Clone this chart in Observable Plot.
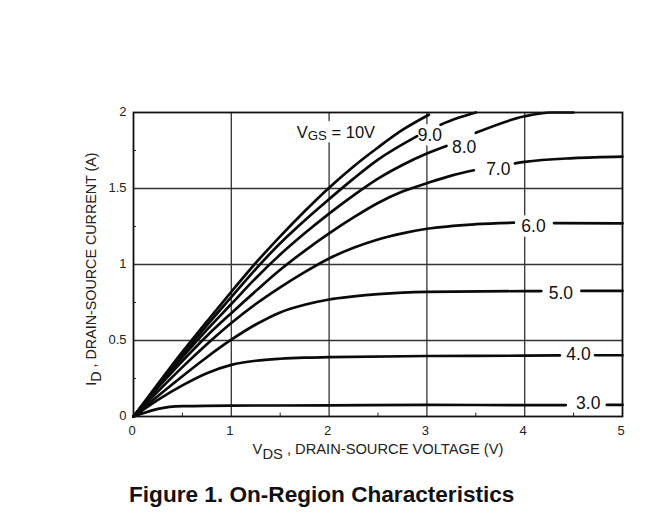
<!DOCTYPE html>
<html><head><meta charset="utf-8">
<script src="https://cdn.jsdelivr.net/npm/d3@7"></script>
<script src="https://cdn.jsdelivr.net/npm/@observablehq/plot@0.6"></script>
<style>
html,body{margin:0;padding:0;background:#fff}
#cap{font:bold 22.6px "Liberation Sans",Arial,sans-serif;color:#111;padding-left:129px;margin-top:4px;white-space:nowrap}
svg{display:block}
</style></head><body>
<div id="chart"></div>
<div id="cap">Figure 1. On-Region Characteristics</div>
<script>
const vgs3 = [[0,0],[0.1,0.022],[0.25,0.05],[0.5,0.068],[1,0.072],[2,0.073],[3,0.076],[4,0.075],[4.42,0.075],[4.6,NaN],[4.84,0.076],[5,0.076]];
const vgs4 = [[0,0],[0.25,0.11],[0.5,0.205],[0.75,0.285],[1,0.34],[1.25,0.367],[1.5,0.38],[1.75,0.387],[2,0.39],[3,0.398],[4,0.4],[4.36,0.402],[4.5,NaN],[4.72,0.403],[5,0.403]];
const vgs5 = [[0,0],[0.25,0.135],[0.5,0.265],[0.75,0.39],[1,0.505],[1.25,0.605],[1.5,0.685],[1.75,0.735],[2,0.77],[2.25,0.79],[2.5,0.805],[2.75,0.815],[3,0.82],[4,0.825],[4.17,0.825],[4.4,NaN],[4.58,0.826],[5,0.826]];
const vgs6 = [[0,0],[0.25,0.165],[0.5,0.325],[0.75,0.475],[1,0.615],[1.25,0.74],[1.5,0.85],[1.75,0.95],[2,1.04],[2.25,1.11],[2.5,1.165],[2.75,1.205],[3,1.235],[3.5,1.265],[3.89,1.275],[4.1,NaN],[4.3,1.272],[5,1.27]];
const vgs7 = [[0,0],[0.25,0.19],[0.5,0.365],[0.75,0.53],[1,0.68],[1.25,0.825],[1.5,0.965],[1.75,1.09],[2,1.205],[2.25,1.31],[2.5,1.405],[2.75,1.48],[3,1.535],[3.25,1.585],[3.48,1.62],[3.7,NaN],[3.9,1.665],[4,1.675],[4.5,1.70],[5,1.71]];
const vgs8 = [[0,0],[0.25,0.2],[0.5,0.39],[0.75,0.57],[1,0.74],[1.25,0.91],[1.5,1.065],[1.75,1.205],[2,1.335],[2.25,1.455],[2.5,1.565],[2.75,1.655],[3,1.73],[3.2,1.78],[3.35,NaN],[3.5,1.866],[4,1.975],[4.27,2],[4.5,2]];
const vgs9 = [[0,0],[0.25,0.205],[0.5,0.405],[0.75,0.6],[1,0.785],[1.25,0.97],[1.5,1.14],[1.75,1.29],[2,1.43],[2.25,1.565],[2.5,1.69],[2.9,1.845],[3.02,NaN],[3.14,1.92],[3.3,1.96],[3.5,2]];
const vgs10 = [[0,0],[0.25,0.215],[0.5,0.425],[0.75,0.625],[1,0.82],[1.25,1.01],[1.5,1.185],[1.75,1.35],[2,1.505],[2.25,1.645],[2.5,1.77],[2.75,1.885],[3.02,1.985]];
const curves = [vgs3,vgs4,vgs5,vgs6,vgs7,vgs8,vgs9,vgs10];
const curveLabels = ["3.0","4.0","5.0","6.0","7.0","8.0","9.0"];
const labelX = [4.65,4.55,4.37,4.09,3.73,3.38,3.03];
const labelY = [0.085,0.408,0.81,1.25,1.625,1.77,1.85];
const xTicks = [0,1,2,3,4,5];
const yTicks = [0,0.5,1,1.5,2];
const xMinor = [0.5,1.5,2.5,3.5,4.5];
const yMinor = [0.25,0.75,1.25,1.75];
const xGrid = [1,2,3,4];
const yGrid = [0.5,1,1.5];

const points = curves.flatMap((c,i)=>c.map(([x,y])=>({x,y,k:i})));
const labels = curveLabels.map((t,i)=>({t,x:labelX[i],y:labelY[i]}));
const font = '"Liberation Sans",Arial,sans-serif';
const black = "#0a0a0a";

const chart = Plot.plot({
  width:668, height:478,
  marginLeft:133, marginRight:46, marginTop:112, marginBottom:62,
  x:{domain:[0,5]}, y:{domain:[0,2]},
  style:{fontFamily:font, background:"#fff"},
  marks:[
    Plot.ruleX(xGrid,{stroke:"#333",strokeWidth:1.3}),
    Plot.ruleY(yGrid,{stroke:"#333",strokeWidth:1.3}),
    Plot.rect(labels,{x1:d=>d.x-0.19,x2:d=>d.x+0.19,y1:d=>d.y-0.07,y2:d=>d.y+0.07,fill:"#fff"}),
    Plot.rect([{x:2.07,y:1.87}],{x1:d=>d.x-0.43,x2:d=>d.x+0.43,y1:d=>d.y-0.07,y2:d=>d.y+0.07,fill:"#fff"}),
    Plot.ruleX(xMinor,{y1:0,y2:0.022,stroke:"#222",strokeWidth:1}),
    Plot.ruleY(yMinor,{x1:0,x2:0.03,stroke:"#222",strokeWidth:1}),
    Plot.line(points,{x:"x",y:"y",z:"k",stroke:black,strokeWidth:2.7,curve:"monotone-x"}),
    Plot.text(labels,{x:"x",y:"y",text:"t",fontSize:17.5,fill:"#111"}),
    Plot.text(["V|GS| = 10V"],{x:2.07,y:1.87,fontSize:16.5,fill:"#111"}),
    Plot.frame({stroke:"#111",strokeWidth:1.8}),
    Plot.axisX(xTicks,{tickSize:0,tickPadding:9,dx:-1.5,fontSize:13,label:null,fill:"#222",tickFormat:d=>String(d)}),
    Plot.axisY(yTicks,{tickSize:0,tickPadding:7,dy:-1,fontSize:13,label:null,fill:"#222",tickFormat:d=>String(d)}),
    Plot.text(["V|DS| , DRAIN-SOURCE VOLTAGE (V)"],{x:2.5,y:0,dy:33,fontSize:14.7,fill:"#222"}),
    Plot.text(["I|D| , DRAIN-SOURCE CURRENT (A)"],{x:0,y:0.97,dx:-42,rotate:-90,fontSize:14.3,fill:"#222"})
  ]
});
d3.select(chart).selectAll("text").each(function(){
  const s=this.textContent;
  if(!s.includes("|")) return;
  const [a,b,c]=s.split("|");
  const small = b==="GS";
  const el=d3.select(this);
  el.text(null);
  el.append("tspan").text(a);
  el.append("tspan").attr("dy",small?"0.2em":"0.33em").attr("font-size",small?"0.8em":null).text(b);
  el.append("tspan").attr("dy",small?"-0.16em":"-0.33em").text(c);
});
document.getElementById("chart").append(chart);
</script>
</body></html>
